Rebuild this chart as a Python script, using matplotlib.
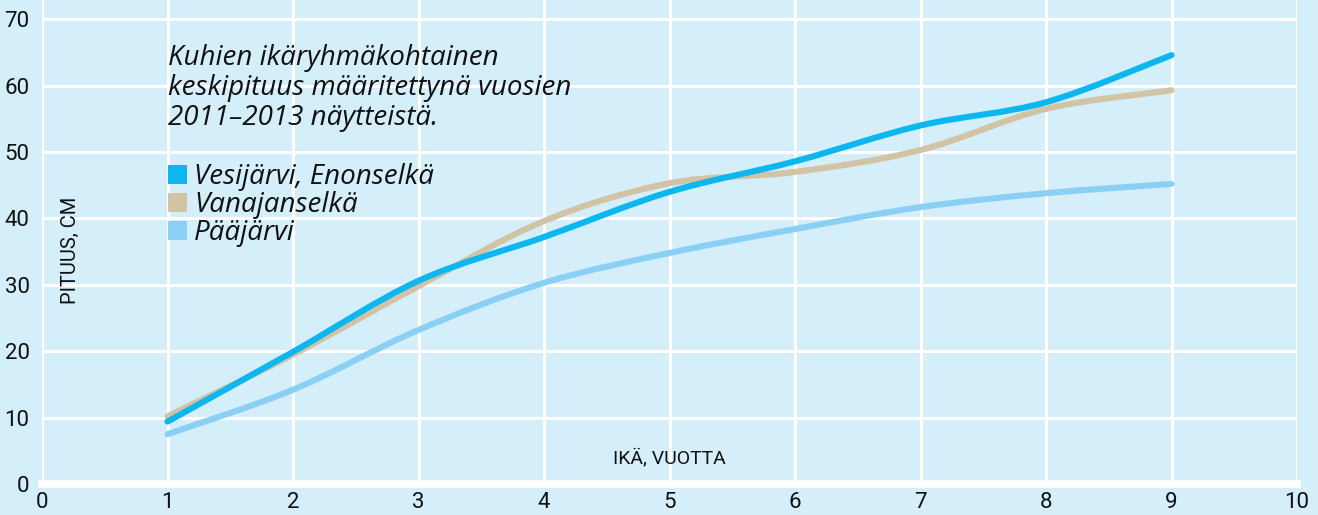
import matplotlib.pyplot as plt
from matplotlib.path import Path
from matplotlib.patches import PathPatch, Patch
import numpy as np

ages = [1, 2, 3, 4, 5, 6, 7, 8, 9]
vesijarvi = [9.4, 19.9, 30.6, 37.2, 44.0, 48.6, 54.0, 57.5, 64.6]
vanajanselka = [10.2, 19.5, 29.8, 39.6, 45.3, 47.0, 50.3, 56.5, 59.3]
paajarvi = [7.5, 14.2, 23.2, 30.3, 34.8, 38.4, 41.7, 43.8, 45.2]

names = ['Vesijärvi, Enonselkä', 'Vanajanselkä', 'Pääjärvi']
colors = ['#0cb6ef', '#d3c3a5', '#8ad0f4']
bg = '#d4eefa'

title = 'Kuhien ikäryhmäkohtainen\nkeskipituus määritettynä vuosien\n2011–2013 näytteistä.'

cond = ['Roboto', 'DejaVu Sans']
ital = ['Open Sans', 'DejaVu Sans']


def smooth_path(x, y):
    # catmull-rom through the points, drawn as cubic bezier
    x = np.asarray(x, float)
    y = np.asarray(y, float)
    verts = [(x[0], y[0])]
    codes = [Path.MOVETO]
    n = len(x)
    for i in range(n - 1):
        p0 = i - 1 if i > 0 else i
        p3 = i + 2 if i + 2 < n else i + 1
        c1 = (x[i] + (x[i + 1] - x[p0]) / 6, y[i] + (y[i + 1] - y[p0]) / 6)
        c2 = (x[i + 1] - (x[p3] - x[i]) / 6, y[i + 1] - (y[p3] - y[i]) / 6)
        verts += [c1, c2, (x[i + 1], y[i + 1])]
        codes += [Path.CURVE4] * 3
    return Path(verts, codes)


fig = plt.figure(figsize=(13.18, 5.15), dpi=100, facecolor=bg)
ax = fig.add_axes([42 / 1318, 1 - 484 / 515, 1255 / 1318, 484 / 515])
ax.set_facecolor(bg)
ax.set_xlim(0, 10)
ax.set_ylim(0, 72.9)

for v in range(0, 11):
    ax.axvline(v, color='white', lw=2.2, zorder=1)
for v in range(10, 80, 10):
    ax.axhline(v, color='white', lw=2.2, zorder=1)

for s in ['top', 'right', 'left']:
    ax.spines[s].set_visible(False)
ax.spines['bottom'].set_color('white')
ax.spines['bottom'].set_linewidth(5.5)
ax.spines['bottom'].set_zorder(2)

series = [paajarvi, vanajanselka, vesijarvi]
cols = [colors[2], colors[1], colors[0]]
for ys, c in zip(series, cols):
    pp = PathPatch(smooth_path(ages, ys), facecolor='none', edgecolor=c,
                   lw=4.4, capstyle='round', joinstyle='round', zorder=3)
    ax.add_patch(pp)

ax.set_xticks(range(0, 11))
ax.set_yticks(range(0, 80, 10))
ax.tick_params(length=0, labelsize=16, colors='#111111')
ax.tick_params(axis='x', pad=6)
ax.tick_params(axis='y', pad=9)
for lab in ax.get_xticklabels() + ax.get_yticklabels():
    lab.set_family(cond)

ax.text(5.0, 3.9, 'IKÄ, VUOTTA', ha='center', va='center', fontsize=14,
        family=cond, color='#111111')
ax.text(0.23, 35.2, 'PITUUS, CM', ha='center', va='center', fontsize=14.5,
        rotation=90, family=cond, color='#111111')

ax.text(1.0, 66.3, title, ha='left', va='top', fontsize=20, style='italic',
        family=ital, color='#111111', linespacing=1.1)

handles = [Patch(facecolor=c, edgecolor='none') for c in colors]
leg = ax.legend(handles, names, loc='upper left', bbox_to_anchor=(0.089, 0.692),
                frameon=False, handlelength=0.7, handleheight=0.7,
                handletextpad=0.25, labelspacing=0.0, borderpad=0,
                prop={'family': ital, 'style': 'italic', 'size': 20})
for t in leg.get_texts():
    t.set_color('#111111')

fig.savefig('out.png', dpi=100, facecolor=bg)
